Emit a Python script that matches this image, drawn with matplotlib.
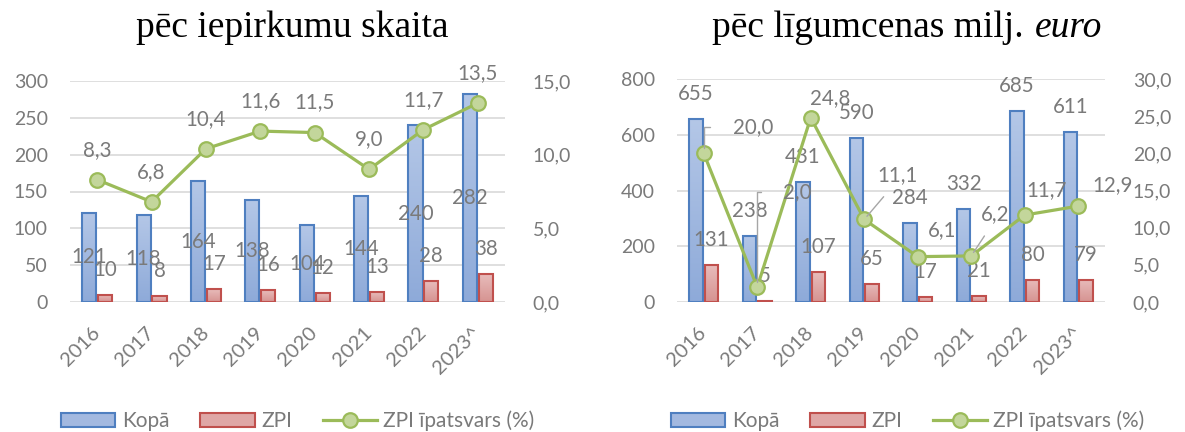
import matplotlib
matplotlib.use('Agg')
import matplotlib.pyplot as plt
import numpy as np
from matplotlib.patches import Patch
from matplotlib.lines import Line2D
from matplotlib.colors import LinearSegmentedColormap

# ---------------- data ----------------
years = ['2016', '2017', '2018', '2019', '2020', '2021', '2022', '2023^']
count_total = [121, 118, 164, 138, 104, 144, 240, 282]
count_zpi = [10, 8, 17, 16, 12, 13, 28, 38]
count_share = [8.3, 6.8, 10.4, 11.6, 11.5, 9.0, 11.7, 13.5]
value_total = [655, 238, 431, 590, 284, 332, 685, 611]
value_zpi = [131, 5, 107, 65, 17, 21, 80, 79]
value_share = [20.0, 2.0, 24.8, 11.1, 6.1, 6.2, 11.7, 12.9]
series_names = ['Kopā', 'ZPI', 'ZPI īpatsvars (%)']
title_left = 'pēc iepirkumu skaita'
title_right_main = 'pēc līgumcenas milj.'
title_right_ital = 'euro'

# ---------------- style ----------------
W, H = 1185, 432
PT = 0.72  # points per pixel at dpi 100
GRAY = '#7a7a7a'
BLUE_EDGE = '#4f7fc0'
BLUE_TOP, BLUE_BOT = '#b4c7e7', '#8eaad9'
RED_EDGE = '#c0504d'
RED_TOP, RED_BOT = '#e8bcbb', '#d69391'
GREEN = '#9bbb59'
GREEN_FACE = '#c3d69b'
FONT = 'Lato'
FS = 14
FS_LAB = 14.8

blue_cmap = LinearSegmentedColormap.from_list('b', [BLUE_BOT, BLUE_TOP])
red_cmap = LinearSegmentedColormap.from_list('r', [RED_BOT, RED_TOP])

plt.rcParams['font.family'] = [FONT, 'DejaVu Sans']

fig = plt.figure(figsize=(W / 100, H / 100), dpi=100)


def fmt(v):
    return f'{v:.1f}'.replace('.', ',')


def gradient_bars(ax, bars, cmap):
    grad = np.linspace(0, 1, 256).reshape(-1, 1)
    for r in bars:
        x0, w, h = r.get_x(), r.get_width(), r.get_height()
        ax.imshow(grad, cmap=cmap, extent=[x0, x0 + w, 0, h], aspect='auto',
                  origin='lower', zorder=2.4, interpolation='bilinear')


def panel(rect_px, totals, zpis, shares, ymax, ystep, y2max, y2step,
          total_center, share_offsets, leaders):
    l, t, r, b = rect_px
    ax = fig.add_axes([l / W, 1 - b / H, (r - l) / W, (b - t) / H])
    x = np.arange(len(years))
    bw, off = 0.26, 0.145
    b1 = ax.bar(x - off, totals, bw, facecolor='none', edgecolor=BLUE_EDGE,
                linewidth=1.5, zorder=3)
    b2 = ax.bar(x + off, zpis, bw, facecolor='none', edgecolor=RED_EDGE,
                linewidth=1.5, zorder=3)
    gradient_bars(ax, b1, blue_cmap)
    gradient_bars(ax, b2, red_cmap)
    ax.set_xlim(-0.5, len(years) - 0.5)
    ax.set_ylim(0, ymax)
    ax.set_yticks(np.arange(0, ymax + 1, ystep))
    ax.yaxis.grid(True, color='#d9d9d9', linewidth=1.2)
    ax.set_axisbelow(True)
    for s in ax.spines.values():
        s.set_visible(False)
    ax.tick_params(length=0, labelsize=FS, labelcolor=GRAY)
    ax.tick_params(axis='y', pad=16)
    ax.set_xticks(x)
    ax.set_xticklabels(years, rotation=45, ha='right', va='center',
                       rotation_mode='anchor', fontsize=FS + 0.5)
    ax.tick_params(axis='x', pad=20)

    # bar labels
    for xi, v in zip(x, totals):
        if total_center:
            ax.text(xi - off, v / 2, str(v), ha='center', va='center',
                    fontsize=FS_LAB, color=GRAY, zorder=6)
        else:
            ax.annotate(str(v), (xi - off, v), xytext=(0, 25 * PT),
                        textcoords='offset points', ha='center', va='center',
                        fontsize=FS_LAB, color=GRAY, zorder=6)
    for xi, v in zip(x, zpis):
        ax.annotate(str(v), (xi + off, v), xytext=(0, 25 * PT),
                    textcoords='offset points', ha='center', va='center',
                    fontsize=FS_LAB, color=GRAY, zorder=6)

    ax2 = ax.twinx()
    ax2.plot(x, shares, color=GREEN, linewidth=2.3, marker='o', markersize=10.5,
             markerfacecolor=GREEN_FACE, markeredgecolor=GREEN,
             markeredgewidth=1.6, zorder=5)
    ax2.set_ylim(0, y2max)
    ax2.set_yticks(np.arange(0, y2max + 0.01, y2step))
    ax2.set_yticklabels([fmt(v) for v in np.arange(0, y2max + 0.01, y2step)])
    for s in ax2.spines.values():
        s.set_visible(False)
    ax2.tick_params(length=0, labelsize=FS, labelcolor=GRAY, pad=20)
    for i, (xi, v) in enumerate(zip(x, shares)):
        dx, dy = share_offsets[i]
        kw = {}
        if leaders and leaders[i] is not None:
            kind = leaders[i]
            if kind == 'elbow':
                kw['arrowprops'] = dict(arrowstyle='-', color='#a6a6a6', lw=1.0,
                                        connectionstyle='angle,angleA=0,angleB=90,rad=0',
                                        relpos=(0, 0.5), shrinkA=14, shrinkB=4)
            else:
                kw['arrowprops'] = dict(arrowstyle='-', color='#a6a6a6', lw=1.0,
                                        relpos=(0.4, 0), shrinkA=8, shrinkB=3)
        ax2.annotate(fmt(v), (xi, v), xytext=(dx * PT, dy * PT),
                     textcoords='offset points', ha='center', va='center',
                     fontsize=FS_LAB, color=GRAY, zorder=7, **kw)
    return ax, ax2


def legend(cx):
    handles = [Patch(facecolor='#a3b9e0', edgecolor=BLUE_EDGE, linewidth=1.5),
               Patch(facecolor='#dfa7a6', edgecolor=RED_EDGE, linewidth=1.5),
               Line2D([], [], color=GREEN, linewidth=2.3, marker='o', markersize=10.5,
                      markerfacecolor=GREEN_FACE, markeredgecolor=GREEN,
                      markeredgewidth=1.6)]
    leg = fig.legend(handles, series_names, loc='center', ncol=3, frameon=False,
                     bbox_to_anchor=(cx / W, 1 - 421 / H), fontsize=FS + 1,
                     handlelength=2.6, handleheight=0.7, handletextpad=0.3,
                     columnspacing=1.5, borderpad=0)
    for tx in leg.get_texts():
        tx.set_color(GRAY)


# left panel
panel((70, 81, 505, 302), count_total, count_zpi, count_share, 300, 50, 15, 5,
      True, [(0, 30)] * 8, None)
# right panel
right_offsets = [(49, 26), (40, 95), (19, 20), (33, 44), (24, 27), (24, 42),
                 (22, 25), (34, 21)]
right_leaders = ['elbow', 'elbow', None, 'diag', None, 'diag', None, None]
panel((677, 79, 1105, 302), value_total, value_zpi, value_share, 800, 200, 30, 5,
      False, right_offsets, right_leaders)

legend(298)
legend(908)

fig.text(292 / W, 1 - 28 / H, title_left, ha='center', va='center',
         fontsize=27, family='Liberation Serif', color='black')
fig.text(1024 / W, 1 - 28 / H, title_right_main, ha='right', va='center',
         fontsize=27, family='Liberation Serif', color='black')
fig.text(1035 / W, 1 - 28 / H, title_right_ital, ha='left', va='center',
         fontsize=27, family='Liberation Serif', style='italic', color='black')

fig.savefig('out.png', dpi=100)
